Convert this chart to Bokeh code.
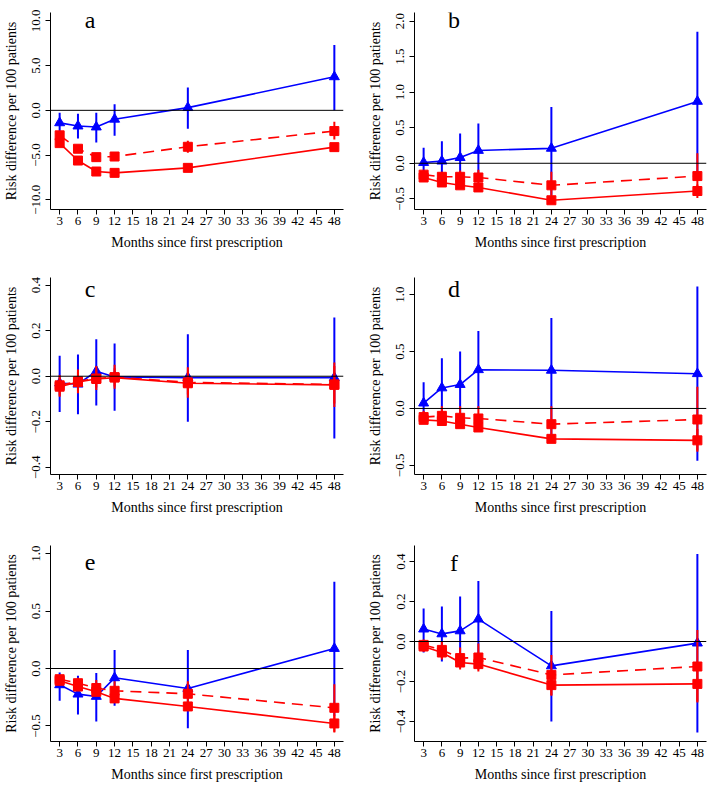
import math
from bokeh.plotting import figure
from bokeh.models import Range1d, FixedTicker, Span, Label
from bokeh.layouts import column, row
from bokeh.embed import file_html
from bokeh.resources import INLINE

months = [3, 6, 9, 12, 24, 48]
x_ticks = list(range(3, 49, 3))

# ---- panel a ----
a_blue = [-1.40, -1.76, -1.87, -1.00, 0.30, 3.75]
a_blue_lo = [-2.60, -3.15, -3.60, -2.85, -2.06, 0.00]
a_blue_hi = [-0.26, -0.37, -0.26, 0.67, 2.55, 7.30]
a_dash = [-2.80, -4.30, -5.24, -5.17, -4.08, -2.32]
a_dash_lo = [-3.10, -4.60, -5.70, -5.60, -4.75, -3.26]
a_dash_hi = [-2.50, -4.00, -4.80, -4.75, -3.40, -1.27]
a_solid = [-3.67, -5.62, -6.85, -7.00, -6.44, -4.12]
a_solid_lo = [-3.90, -5.85, -7.05, -7.20, -6.70, -4.40]
a_solid_hi = [-3.45, -5.40, -6.65, -6.80, -6.20, -3.85]
a_yticks = [-10, -5, 0, 5, 10]
a_ylabels = ["−10.0", "−5.0", "0.0", "5.0", "10.0"]

# ---- panel b ----
b_blue = [0.01, 0.03, 0.08, 0.18, 0.21, 0.87]
b_blue_lo = [-0.20, -0.25, -0.26, -0.20, -0.45, -0.11]
b_blue_hi = [0.22, 0.31, 0.42, 0.56, 0.79, 1.85]
b_dash = [-0.16, -0.19, -0.19, -0.20, -0.31, -0.18]
b_dash_lo = [-0.22, -0.26, -0.27, -0.30, -0.50, -0.45]
b_dash_hi = [-0.10, -0.12, -0.10, -0.09, -0.12, 0.14]
b_solid = [-0.20, -0.27, -0.31, -0.34, -0.52, -0.39]
b_solid_lo = [-0.24, -0.31, -0.35, -0.38, -0.56, -0.49]
b_solid_hi = [-0.16, -0.23, -0.27, -0.30, -0.48, -0.30]
b_yticks = [-0.5, 0, 0.5, 1.0, 1.5, 2.0]
b_ylabels = ["−0.5", "0.0", "0.5", "1.0", "1.5", "2.0"]

# ---- panel c ----
c_blue = [-0.030, -0.035, 0.022, -0.003, -0.006, -0.006]
c_blue_lo = [-0.157, -0.167, -0.129, -0.152, -0.200, -0.274]
c_blue_hi = [0.090, 0.095, 0.163, 0.144, 0.185, 0.258]
c_dash = [-0.040, -0.022, -0.010, -0.004, -0.027, -0.036]
c_dash_lo = [-0.090, -0.075, -0.060, -0.055, -0.095, -0.135]
c_dash_hi = [0.005, 0.030, 0.045, 0.050, 0.040, 0.060]
c_solid = [-0.046, -0.025, -0.012, -0.006, -0.031, -0.038]
c_solid_lo = [-0.085, -0.065, -0.050, -0.045, -0.080, -0.120]
c_solid_hi = [-0.005, 0.020, 0.030, 0.035, 0.020, 0.045]
c_yticks = [-0.4, -0.2, 0, 0.2, 0.4]
c_ylabels = ["−0.4", "−0.2", "0.0", "0.2", "0.4"]

# ---- panel d ----
d_blue = [0.047, 0.180, 0.210, 0.340, 0.335, 0.305]
d_blue_lo = [-0.13, -0.07, -0.08, 0.00, -0.28, -0.46]
d_blue_hi = [0.23, 0.44, 0.50, 0.68, 0.795, 1.07]
d_dash = [-0.076, -0.065, -0.082, -0.088, -0.138, -0.097]
d_dash_lo = [-0.12, -0.12, -0.15, -0.15, -0.30, -0.37]
d_dash_hi = [-0.02, 0.02, 0.02, 0.02, 0.02, 0.19]
d_solid = [-0.100, -0.110, -0.138, -0.167, -0.267, -0.280]
d_solid_lo = [-0.13, -0.14, -0.17, -0.20, -0.30, -0.38]
d_solid_hi = [-0.07, -0.08, -0.10, -0.13, -0.23, -0.18]
d_yticks = [-0.5, 0, 0.5, 1.0]
d_ylabels = ["−0.5", "0.0", "0.5", "1.0"]

# ---- panel e ----
e_blue = [-0.142, -0.223, -0.243, -0.081, -0.174, 0.174]
e_blue_lo = [-0.28, -0.40, -0.46, -0.325, -0.52, -0.41]
e_blue_hi = [-0.035, -0.064, -0.04, 0.16, 0.16, 0.754]
e_dash = [-0.093, -0.128, -0.170, -0.194, -0.220, -0.342]
e_dash_lo = [-0.13, -0.18, -0.24, -0.28, -0.33, -0.55]
e_dash_hi = [-0.06, -0.08, -0.10, -0.11, -0.11, -0.136]
e_solid = [-0.107, -0.157, -0.203, -0.260, -0.330, -0.478]
e_solid_lo = [-0.13, -0.19, -0.24, -0.30, -0.36, -0.556]
e_solid_hi = [-0.08, -0.12, -0.16, -0.21, -0.29, -0.40]
e_yticks = [-0.5, 0, 0.5, 1.0]
e_ylabels = ["−0.5", "0.0", "0.5", "1.0"]

# ---- panel f ----
f_blue = [0.062, 0.038, 0.053, 0.112, -0.122, -0.008]
f_blue_lo = [-0.055, -0.10, -0.09, -0.07, -0.40, -0.455]
f_blue_hi = [0.165, 0.175, 0.225, 0.303, 0.153, 0.437]
f_dash = [-0.017, -0.042, -0.083, -0.080, -0.167, -0.125]
f_dash_lo = [-0.05, -0.08, -0.13, -0.14, -0.27, -0.30]
f_dash_hi = [0.01, 0.00, -0.03, -0.01, -0.067, 0.057]
f_solid = [-0.025, -0.055, -0.105, -0.113, -0.218, -0.212]
f_solid_lo = [-0.05, -0.09, -0.14, -0.15, -0.27, -0.305]
f_solid_hi = [0.00, -0.02, -0.07, -0.07, -0.17, -0.12]
f_yticks = [-0.4, -0.2, 0, 0.2, 0.4]
f_ylabels = ["−0.4", "−0.2", "0.0", "0.2", "0.4"]

BLUE = "#0000FF"
RED = "#FF0000"
FONT = "Liberation Serif"


def make_panel(letter, yr, yticks, ylabels, blue, blo, bhi, dash, dlo, dhi,
               solid, slo, shi, width, height, bl, br, bt, bb, letter_off):
    p = figure(width=width, height=height,
               x_range=Range1d(1.5, 49.5), y_range=Range1d(*yr),
               output_backend="svg", toolbar_location=None,
               min_border_left=bl, min_border_right=br,
               min_border_top=bt, min_border_bottom=bb)
    p.outline_line_color = None
    p.grid.visible = False
    p.background_fill_color = "white"
    p.border_fill_color = "white"

    p.xaxis.ticker = FixedTicker(ticks=x_ticks)
    p.yaxis.ticker = FixedTicker(ticks=yticks)
    p.yaxis.major_label_overrides = {float(t): l for t, l in zip(yticks, ylabels)}
    p.xaxis.axis_label = "Months since first prescription"
    p.yaxis.axis_label = "Risk difference per 100 patients"
    p.yaxis.major_label_orientation = "vertical"
    for ax in (p.xaxis[0], p.yaxis[0]):
        ax.axis_label_text_font = FONT
        ax.axis_label_text_font_style = "normal"
        ax.axis_label_text_font_size = "14px"
        ax.axis_label_text_color = "black"
        ax.major_label_text_font = FONT
        ax.major_label_text_font_size = "13px"
        ax.major_label_text_color = "black"
        ax.major_tick_out = 5
        ax.major_tick_in = 0
        ax.minor_tick_out = 0
        ax.minor_tick_in = 0
        ax.axis_line_color = "black"
        ax.major_tick_line_color = "black"
    p.xaxis[0].major_label_standoff = 2
    p.yaxis[0].major_label_standoff = 5
    p.xaxis[0].axis_label_standoff = 7
    p.yaxis[0].axis_label_standoff = 11

    p.add_layout(Span(location=0, dimension="width", line_color="black", line_width=1))

    # blue series
    p.segment(x0=months, y0=blo, x1=months, y1=bhi, line_color=BLUE, line_width=2)
    p.line(months, blue, line_color=BLUE, line_width=1.6)
    p.scatter(months, blue, marker="triangle", size=10, fill_color=BLUE, line_color=BLUE)

    # red dashed series
    p.segment(x0=months, y0=dlo, x1=months, y1=dhi, line_color=RED, line_width=2)
    p.line(months, dash, line_color=RED, line_width=1.6, line_dash="11 7")
    p.scatter(months, dash, marker="square", size=9, fill_color=RED, line_color=RED)

    # red solid series
    p.segment(x0=months, y0=slo, x1=months, y1=shi, line_color=RED, line_width=2)
    p.line(months, solid, line_color=RED, line_width=1.6)
    p.scatter(months, solid, marker="square", size=9, fill_color=RED, line_color=RED)

    frame_h = height - bt - bb
    ly = yr[1] - letter_off / frame_h * (yr[1] - yr[0])
    p.add_layout(Label(x=8, y=ly, text=letter, text_font=FONT,
                       text_font_size="24px", text_align="center",
                       text_baseline="alphabetic", text_color="black"))
    return p


LW, RW = 364, 344
pa = make_panel("a", (-11.1, 10.95), a_yticks, a_ylabels, a_blue, a_blue_lo, a_blue_hi,
                a_dash, a_dash_lo, a_dash_hi, a_solid, a_solid_lo, a_solid_hi,
                LW, 266, 47, 21, 12, 57, 7.0)
pb = make_panel("b", (-0.65, 2.12), b_yticks, b_ylabels, b_blue, b_blue_lo, b_blue_hi,
                b_dash, b_dash_lo, b_dash_hi, b_solid, b_solid_lo, b_solid_hi,
                RW, 266, 47, 2, 12, 57, 7.0)
pc = make_panel("c", (-0.432, 0.434), c_yticks, c_ylabels, c_blue, c_blue_lo, c_blue_hi,
                c_dash, c_dash_lo, c_dash_hi, c_solid, c_solid_lo, c_solid_hi,
                LW, 266, 47, 21, 11, 58, 11.0)
pd_ = make_panel("d", (-0.58, 1.15), d_yticks, d_ylabels, d_blue, d_blue_lo, d_blue_hi,
                 d_dash, d_dash_lo, d_dash_hi, d_solid, d_solid_lo, d_solid_hi,
                 RW, 266, 47, 2, 11, 58, 11.0)
pe = make_panel("e", (-0.635, 1.07), e_yticks, e_ylabels, e_blue, e_blue_lo, e_blue_hi,
                e_dash, e_dash_lo, e_dash_hi, e_solid, e_solid_lo, e_solid_hi,
                LW, 252, 47, 21, 13, 43, 17.0)
pf = make_panel("f", (-0.5, 0.48), f_yticks, f_ylabels, f_blue, f_blue_lo, f_blue_hi,
                f_dash, f_dash_lo, f_dash_hi, f_solid, f_solid_lo, f_solid_hi,
                RW, 252, 47, 2, 13, 43, 17.0)

layout = column(row(pa, pb), row(pc, pd_), row(pe, pf))

with open("out.html", "w") as fh:
    fh.write(file_html(layout, INLINE))
